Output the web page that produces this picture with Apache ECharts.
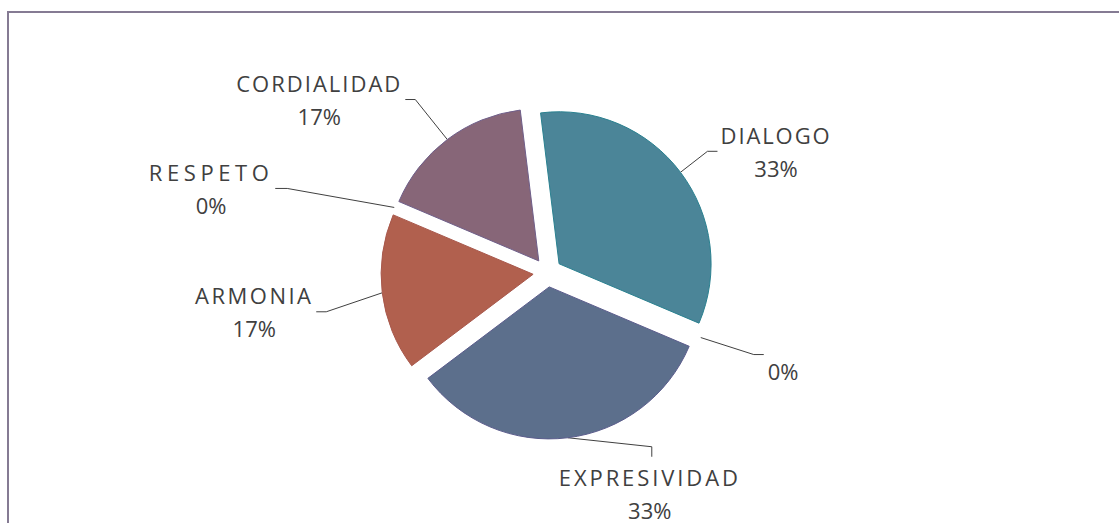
<!DOCTYPE html>
<html><head><meta charset="utf-8">
<script src="https://cdn.jsdelivr.net/npm/echarts@6/dist/echarts.min.js"></script>
<style>html,body{margin:0;padding:0;background:#fff}#main{width:1119px;height:523px}</style>
</head><body><div id="main"></div>
<script>
// ---- data ----
const categories = ['DIALOGO', '', 'EXPRESIVIDAD', 'ARMONIA', 'RESPETO', 'CORDIALIDAD'];
const values = [2, 0, 2, 1, 0, 1];

// ---- styles ----
const sliceColors = ['#4B8598', '#7F93B3', '#5C6F8C', '#B1604E', '#9BBB59', '#876678'];
const sliceBorders = ['#2A8190', '#5E6A95', '#5B5C8C', '#A8584C', '#8AA850', '#6F5F8A'];
const nameSpacing = [1.9, 0, 2.9, 2.5, 4.6, 2.0];
// leader shape relative to the library's anchor point: [dx1, dy1, dx2, dy2, side]
const leaders = [
  [27, -21, 10, 0, 'right'],
  [53, 17, 10, 0, 'right'],
  [84, 9, 0, 10, 'below'],
  [-56, 19, -10, 0, 'left'],
  [-107, -19, -12, 0, 'left'],
  [-32, -40, -10, 0, 'left']
];
const CENTER = [547.5, 272.5], RADIUS = 152, START = 97, EXPLODE = 14.5;
const FONT_SIZE = 22, FONT = 'Open Sans', LINE_H = 33, GAP = 4;
const TEXT_COLOR = '#404040';

const total = values.reduce((a, b) => a + b, 0);
const mctx = document.createElement('canvas').getContext('2d');
mctx.font = FONT_SIZE + 'px "' + FONT + '"';
function pctText(i) { return Math.round(values[i] / total * 100) + '%'; }
function labelWidth(i) {
  const n = categories[i];
  const wn = n ? mctx.measureText(n).width + nameSpacing[i] * (n.length - 1) : 0;
  return Math.max(wn, mctx.measureText(pctText(i)).width);
}
// mid angle of each slice (degrees, counter-clockwise from 3 o'clock)
function midAngle(k) {
  let cum = 0;
  for (let i = 0; i < k; i++) cum += values[i];
  return START - 360 * (cum + values[k] / 2) / total;
}

function labelLayout(params) {
  const i = params.dataIndex;
  if (i !== params.seriesIndex || !params.labelLinePoints) return {};
  const p0 = params.labelLinePoints[0];
  const L = leaders[i];
  const p1 = [p0[0] + L[0], p0[1] + L[1]];
  const p2 = [p1[0] + L[2], p1[1] + L[3]];
  const w = labelWidth(i);
  let x, y;
  if (L[4] === 'right') { x = p2[0] + GAP + w / 2; y = p2[1]; }
  else if (L[4] === 'left') { x = p2[0] - GAP - w / 2; y = p2[1]; }
  else { x = p2[0] - 2; y = p2[1] + 4 + LINE_H; }
  return { x: x, y: y, align: 'center', verticalAlign: 'middle', labelLinePoints: [p0, p1, p2] };
}

// one pie per slice so every slice can be pulled out along its own mid angle
const series = categories.map((_, k) => {
  const a = midAngle(k) * Math.PI / 180;
  return {
    type: 'pie',
    center: [CENTER[0] + EXPLODE * Math.cos(a), CENTER[1] - EXPLODE * Math.sin(a)],
    radius: RADIUS,
    startAngle: START,
    clockwise: true,
    avoidLabelOverlap: false,
    minShowLabelAngle: 0,
    silent: true,
    emphasis: { disabled: true },
    label: {
      show: true, position: 'outside', color: TEXT_COLOR, fontFamily: FONT,
      fontSize: FONT_SIZE, lineHeight: LINE_H,
      formatter: p => categories[p.dataIndex] + '\n' + pctText(p.dataIndex)
    },
    labelLine: { show: true, lineStyle: { color: '#404040', width: 1 } },
    labelLayout: labelLayout,
    data: categories.map((c, i) => ({
      name: c,
      value: values[i],
      itemStyle: i === k
        ? { color: sliceColors[i], borderColor: sliceBorders[i], borderWidth: values[i] > 0 ? 1 : 0 }
        : { color: 'rgba(0,0,0,0)', borderWidth: 0 },
      label: { show: i === k },
      labelLine: { show: i === k }
    }))
  };
});

const chart = echarts.init(document.getElementById('main'), null, { renderer: 'svg' });
chart.setOption({
  animation: false,
  backgroundColor: '#fff',
  graphic: [{
    type: 'rect', silent: true, z: -1,
    shape: { x: 8, y: 12, width: 1140, height: 540 },
    style: { fill: 'none', stroke: '#857B93', lineWidth: 2 }
  }],
  series: series
});

function applySpacing() {
  document.querySelectorAll('#main svg text').forEach(t => {
    const i = categories.indexOf(t.textContent);
    if (t.textContent && i >= 0) t.style.letterSpacing = nameSpacing[i] + 'px';
  });
}
applySpacing();
chart.on('finished', applySpacing);
setTimeout(applySpacing, 0);
setTimeout(applySpacing, 200);
</script>
</body></html>
